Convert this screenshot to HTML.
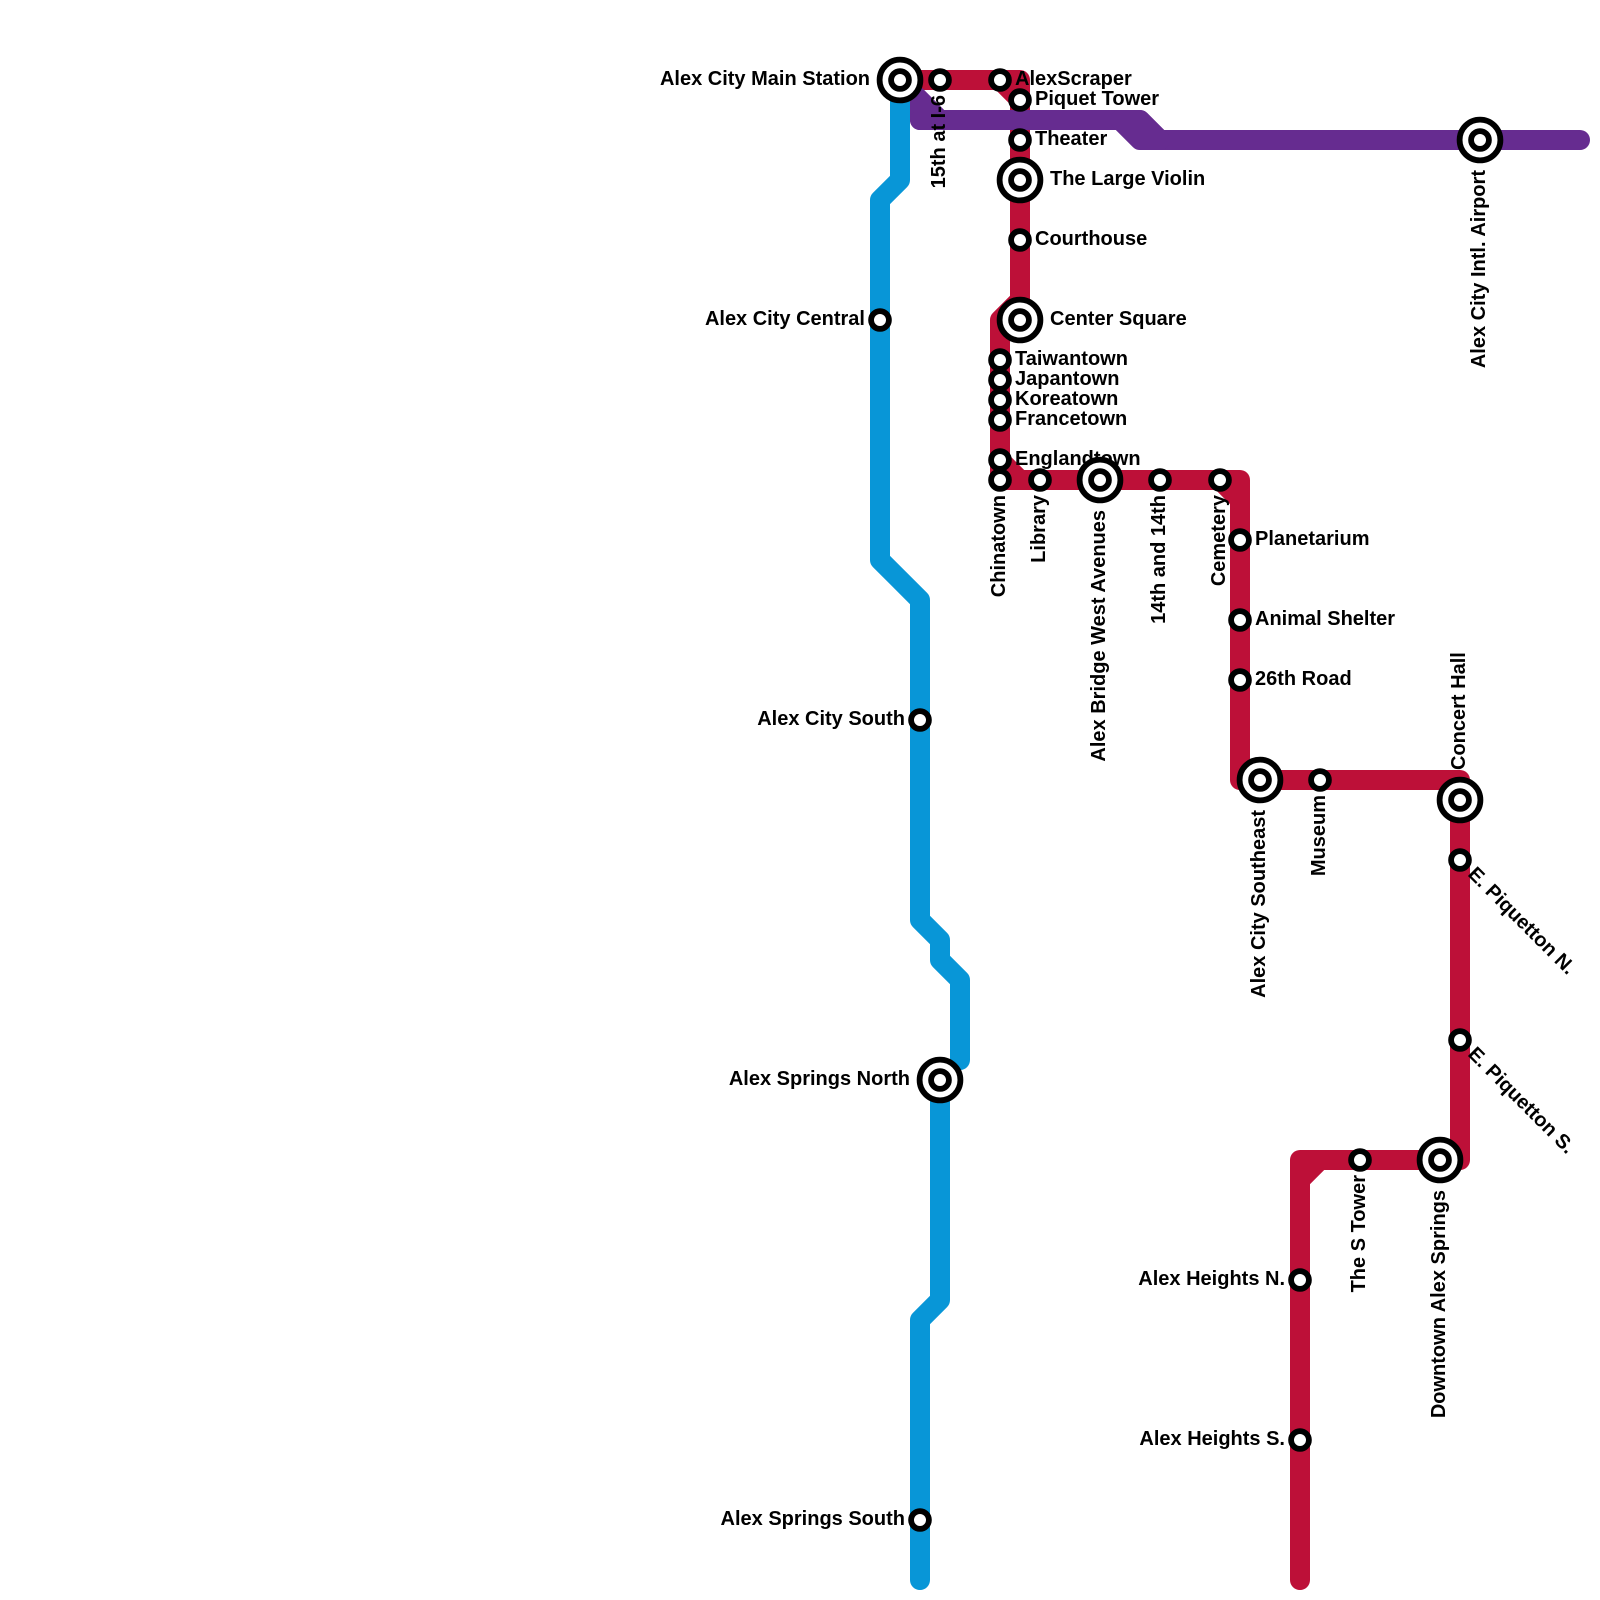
<!DOCTYPE html>
<html><head><meta charset="utf-8"><style>
html,body{margin:0;padding:0;background:#fff}
svg{display:block}
text{font-family:"Liberation Sans",Arial,sans-serif;font-weight:700;font-size:20px;fill:#000}
.l{fill:none;stroke-width:20;stroke-linecap:round;stroke-linejoin:round}
.s{fill:#fff;stroke:#000;stroke-width:5.8}
</style></head><body>
<svg width="1600" height="1600" viewBox="0 0 1600 1600" xmlns="http://www.w3.org/2000/svg">
<rect width="1600" height="1600" fill="#fff"/>
<g stroke="#bd1038">
<path class="l" d="M900 80H1020V300L1000 320V460L1020 480H1240V780H1460V1160H1300V1580"/>
<path class="l" d="M1000 80L1020 100"/>
<path class="l" d="M1000 460V480H1020"/>
<path class="l" d="M1220 480L1240 500"/>
<path class="l" d="M1320 1160L1300 1180"/>
</g>
<g stroke="#662c90">
<path d="M900 80L940 120H920V100Z" fill="#662c90" stroke-width="20" stroke-linejoin="round"/>
<path class="l" d="M920 120H1140L1160 140H1580"/>
<path d="M1120 120H1140L1160 140H1140Z" fill="#662c90" stroke-width="20" stroke-linejoin="round"/>
</g>
<g stroke="#0896d7">
<path class="l" d="M900 80V180L880 200V560L920 600V920L940 940V960L960 980V1060"/>
<path class="l" d="M940 1080V1300L920 1320V1580"/>
</g>
<g text-anchor="start">
<text x="1015" y="85">AlexScraper</text>
<text x="1035" y="105">Piquet Tower</text>
<text x="1035" y="145">Theater</text>
<text x="1050" y="185">The Large Violin</text>
<text x="1035" y="245">Courthouse</text>
<text x="1050" y="325">Center Square</text>
<text x="1015" y="365">Taiwantown</text>
<text x="1015" y="385">Japantown</text>
<text x="1015" y="405">Koreatown</text>
<text x="1015" y="425">Francetown</text>
<text x="1015" y="465">Englandtown</text>
<text x="1255" y="545">Planetarium</text>
<text x="1255" y="625">Animal Shelter</text>
<text x="1255" y="685">26th Road</text>
<text transform="translate(1465 770) rotate(-90)">Concert Hall</text>
<text transform="translate(1467 875) rotate(45)">E. Piquetton N.</text>
<text transform="translate(1467 1055) rotate(45)">E. Piquetton S.</text>
</g>
<g text-anchor="end">
<text x="870" y="85">Alex City Main Station</text>
<text x="865" y="325">Alex City Central</text>
<text x="905" y="725">Alex City South</text>
<text x="910" y="1085">Alex Springs North</text>
<text x="905" y="1525">Alex Springs South</text>
<text x="1285" y="1285">Alex Heights N.</text>
<text x="1285" y="1445">Alex Heights S.</text>
<text transform="translate(945 95) rotate(-90)">15th at I-6</text>
<text transform="translate(1005 495) rotate(-90)">Chinatown</text>
<text transform="translate(1045 495) rotate(-90)">Library</text>
<text transform="translate(1105 510) rotate(-90)">Alex Bridge West Avenues</text>
<text transform="translate(1165 495) rotate(-90)">14th and 14th</text>
<text transform="translate(1225 495) rotate(-90)">Cemetery</text>
<text transform="translate(1265 810) rotate(-90)">Alex City Southeast</text>
<text transform="translate(1325 795) rotate(-90)">Museum</text>
<text transform="translate(1365 1175) rotate(-90)">The S Tower</text>
<text transform="translate(1445 1190) rotate(-90)">Downtown Alex Springs</text>
<text transform="translate(1485 170) rotate(-90)">Alex City Intl. Airport</text>
</g>
<g class="s">
<circle cx="940" cy="80" r="8.9"/><circle cx="1000" cy="80" r="8.9"/><circle cx="1020" cy="100" r="8.9"/>
<circle cx="1020" cy="140" r="8.9"/><circle cx="1020" cy="240" r="8.9"/>
<circle cx="880" cy="320" r="8.9"/>
<circle cx="1000" cy="360" r="8.9"/><circle cx="1000" cy="380" r="8.9"/><circle cx="1000" cy="400" r="8.9"/><circle cx="1000" cy="420" r="8.9"/><circle cx="1000" cy="460" r="8.9"/><circle cx="1000" cy="480" r="8.9"/>
<circle cx="1040" cy="480" r="8.9"/><circle cx="1160" cy="480" r="8.9"/><circle cx="1220" cy="480" r="8.9"/>
<circle cx="1240" cy="540" r="8.9"/><circle cx="1240" cy="620" r="8.9"/><circle cx="1240" cy="680" r="8.9"/>
<circle cx="920" cy="720" r="8.9"/><circle cx="1320" cy="780" r="8.9"/>
<circle cx="1460" cy="860" r="8.9"/><circle cx="1460" cy="1040" r="8.9"/>
<circle cx="1360" cy="1160" r="8.9"/><circle cx="1300" cy="1280" r="8.9"/><circle cx="1300" cy="1440" r="8.9"/><circle cx="920" cy="1520" r="8.9"/>
</g>
<g class="s">
<circle cx="900" cy="80" r="20.4"/><circle cx="1020" cy="180" r="20.4"/><circle cx="1020" cy="320" r="20.4"/><circle cx="1100" cy="480" r="20.4"/><circle cx="1260" cy="780" r="20.4"/><circle cx="1460" cy="800" r="20.4"/><circle cx="940" cy="1080" r="20.4"/><circle cx="1440" cy="1160" r="20.4"/><circle cx="1480" cy="140" r="20.4"/>
<circle cx="900" cy="80" r="8.9"/><circle cx="1020" cy="180" r="8.9"/><circle cx="1020" cy="320" r="8.9"/><circle cx="1100" cy="480" r="8.9"/><circle cx="1260" cy="780" r="8.9"/><circle cx="1460" cy="800" r="8.9"/><circle cx="940" cy="1080" r="8.9"/><circle cx="1440" cy="1160" r="8.9"/><circle cx="1480" cy="140" r="8.9"/>
</g>
</svg>
</body></html>
